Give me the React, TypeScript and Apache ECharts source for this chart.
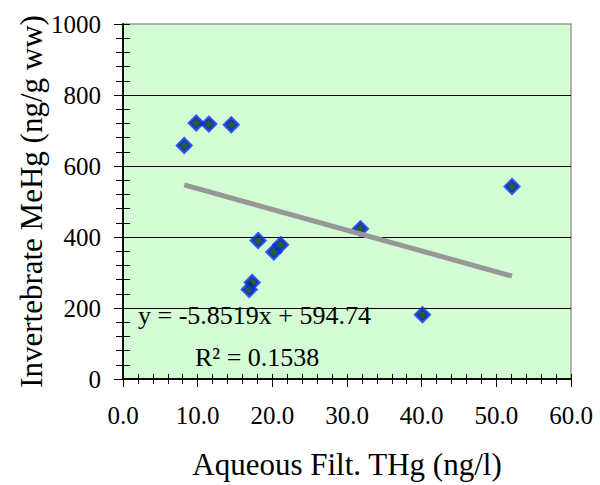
import React, { useEffect, useRef } from "react";
import * as echarts from "echarts";

const thgValues = [8.2, 9.8, 11.5, 14.5, 16.9, 17.3, 18.1, 20.2, 21.1, 31.8, 40.1, 52.1];
const mehgValues = [658, 721, 718, 716, 252, 272, 390, 358, 378, 423, 181, 542];
const xTickValues = [0, 10, 20, 30, 40, 50, 60];
const yTickValues = [0, 200, 400, 600, 800, 1000];
const trendSlope = -5.8519;
const trendIntercept = 594.74;
const equationText = "y = -5.8519x + 594.74";
const r2Text = "R² = 0.1538";
const xTitle = "Aqueous Filt. THg (ng/l)";
const yTitle = "Invertebrate MeHg (ng/g ww)";

const FONT = "Liberation Serif";

export default function App() {
  const ref = useRef<HTMLDivElement>(null);
  useEffect(() => {
    if (!ref.current) return;
    const chart = echarts.init(ref.current, null, { renderer: "svg" });
    const points = thgValues.map((x, i) => [x, mehgValues[i]]);
    const xMin = Math.min(...thgValues);
    const xMax = Math.max(...thgValues);
    const trend = [
      [xMin, trendSlope * xMin + trendIntercept],
      [xMax, trendSlope * xMax + trendIntercept],
    ];
    const xScale = { type: "value", min: 0, max: 60, interval: 10 };
    const yScale = { type: "value", min: 0, max: 1000, interval: 200 };
    const blackLine = { show: true, onZero: false, lineStyle: { color: "#000", width: 1.5 } };
    const tickStyle = { color: "#000", width: 1 };
    const annotations = [
      {
        type: "text",
        left: 138,
        top: 302,
        z: 10,
        style: { text: equationText, fontFamily: FONT, fontSize: 26, fill: "#000" },
      },
      {
        type: "text",
        left: 195,
        top: 344,
        z: 10,
        style: { text: r2Text, fontFamily: FONT, fontSize: 26, fill: "#000" },
      },
    ];
    chart.setOption({
      animation: false,
      grid: {
        left: 123,
        top: 24,
        right: 29,
        bottom: 105.5,
        show: true,
        backgroundColor: "#d4fcd4",
        borderColor: "#999",
        borderWidth: 1.5,
      },
      xAxis: [
        {
          ...xScale,
          position: "bottom",
          offset: 0,
          axisLine: blackLine,
          name: xTitle,
          nameLocation: "middle",
          nameGap: 70,
          nameTextStyle: { fontFamily: FONT, fontSize: 31, color: "#000" },
          axisTick: { show: true, length: 8, lineStyle: tickStyle },
          minorTick: { show: true, splitNumber: 5, length: 5, lineStyle: tickStyle },
          axisLabel: { show: false },
          splitLine: { show: false },
        },
        {
          ...xScale,
          position: "bottom",
          offset: 0,
          axisLine: blackLine,
          axisTick: { show: true, inside: true, length: 5, lineStyle: tickStyle },
          minorTick: { show: true, splitNumber: 5, length: 5, lineStyle: tickStyle },
          axisLabel: { show: false },
          splitLine: { show: false },
        },
      ],
      yAxis: [
        {
          ...yScale,
          position: "left",
          offset: 0,
          axisLine: blackLine,
          name: yTitle,
          nameLocation: "middle",
          nameGap: 76,
          nameTextStyle: { fontFamily: FONT, fontSize: 31, color: "#000" },
          axisTick: { show: true, length: 9, lineStyle: tickStyle },
          minorTick: { show: true, splitNumber: 5, length: 7, lineStyle: tickStyle },
          axisLabel: { show: false },
          splitLine: {
            show: true,
            showMinLine: false,
            showMaxLine: false,
            lineStyle: { color: "#000", width: 1 },
          },
        },
        {
          ...yScale,
          position: "left",
          offset: 0,
          axisLine: blackLine,
          axisTick: { show: true, inside: true, length: 7, lineStyle: tickStyle },
          minorTick: { show: true, splitNumber: 5, length: 7, lineStyle: tickStyle },
          axisLabel: { show: false },
          splitLine: { show: false },
        },
      ],
      series: [
        {
          type: "scatter",
          data: points,
          symbol: "diamond",
          symbolSize: 13,
          itemStyle: { color: "#003800", borderColor: "#0a2ee6", borderWidth: 3.5 },
          z: 2,
        },
        {
          type: "line",
          data: trend,
          showSymbol: false,
          symbol: "none",
          lineStyle: { color: "#979797", width: 5, cap: "butt" },
          z: 3,
        },
      ],
      graphic: annotations,
    });

    // Tick labels placed through the axes' own scales
    const xAxisPixel = chart.convertToPixel({ yAxisIndex: 0 }, 0) as number;
    const yAxisPixel = chart.convertToPixel({ xAxisIndex: 0 }, 0) as number;
    const xLabels = xTickValues.map((v) => ({
      type: "text",
      x: chart.convertToPixel({ xAxisIndex: 0 }, v) as number,
      y: xAxisPixel + 36,
      z: 10,
      style: {
        text: v.toFixed(1),
        fontFamily: FONT,
        fontSize: 25,
        fill: "#000",
        align: "center",
        verticalAlign: "middle",
      },
    }));
    const yLabels = yTickValues.map((v) => ({
      type: "text",
      x: yAxisPixel - 22,
      y: chart.convertToPixel({ yAxisIndex: 0 }, v) as number,
      z: 10,
      style: {
        text: String(v),
        fontFamily: FONT,
        fontSize: 25,
        fill: "#000",
        align: "right",
        verticalAlign: "middle",
      },
    }));
    chart.setOption({ graphic: [...annotations, ...xLabels, ...yLabels] });

    return () => chart.dispose();
  }, []);
  return (
    <div
      ref={ref}
      style={{ position: "fixed", left: 0, top: 0, width: 600, height: 485, background: "#fff" }}
    />
  );
}
